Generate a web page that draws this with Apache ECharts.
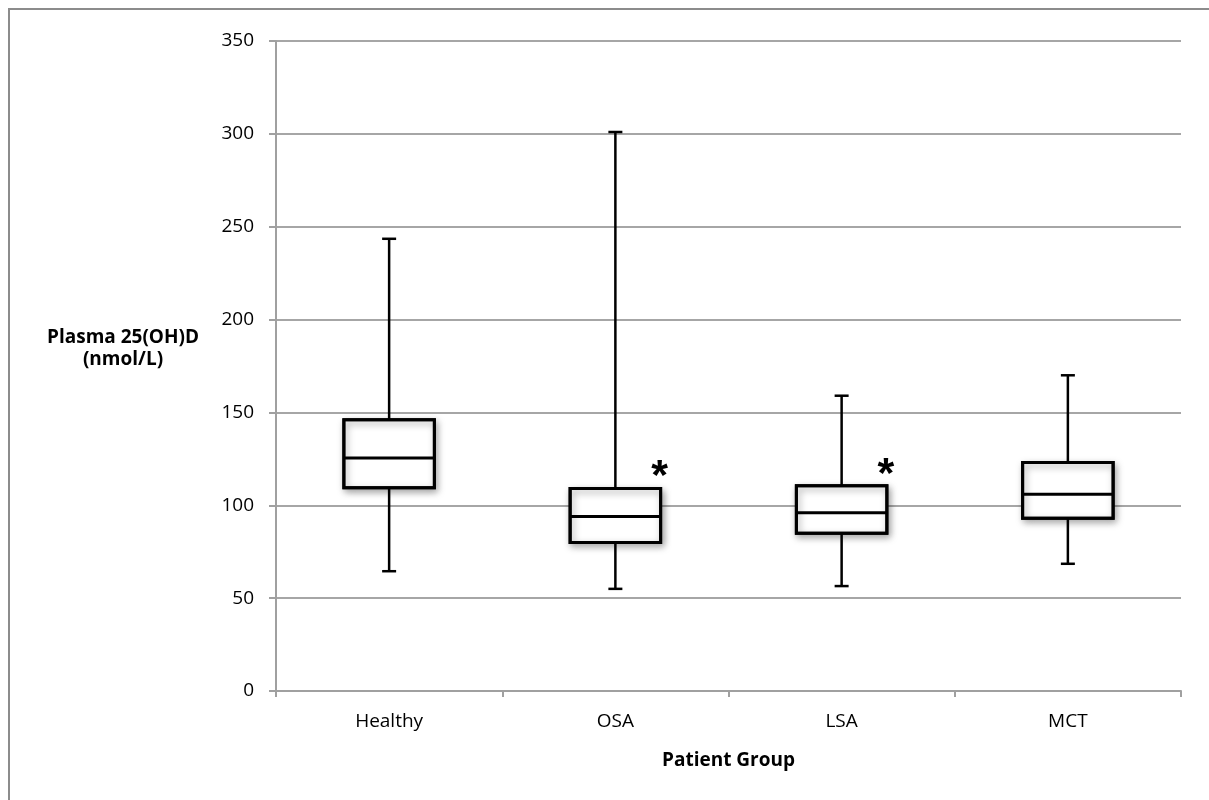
<!DOCTYPE html>
<html>
<head>
<meta charset="utf-8">
<script src="https://cdn.jsdelivr.net/npm/echarts@6/dist/echarts.min.js"></script>
<style>
  html, body { margin: 0; padding: 0; background: #fff; }
  #chart { width: 1209px; height: 800px; }
</style>
</head>
<body>
<div id="chart"></div>
<script>
// ---- Data ----
const categories = ['Healthy', 'OSA', 'LSA', 'MCT'];
const whiskerLow = [64.5, 55, 56.5, 68.5];
const q1 = [109.5, 80, 85, 93];
const median = [125.5, 94, 96, 106];
const q3 = [146, 109, 110.5, 123];
const whiskerHigh = [243.5, 301, 159, 170];
const markers = ['', '*', '*', ''];
const yTicks = { min: 0, max: 350, interval: 50 };

const boxData = categories.map((c, i) => [i, whiskerLow[i], q1[i], median[i], q3[i], whiskerHigh[i]]);

const FONT = '"Open Sans", "Liberation Sans", sans-serif';
const chart = echarts.init(document.getElementById('chart'), null, { renderer: 'canvas' });

function renderBox(params, api) {
  const i = api.value(0);
  const pLow = api.coord([i, api.value(1)]);
  const pQ1 = api.coord([i, api.value(2)]);
  const pMed = api.coord([i, api.value(3)]);
  const pQ3 = api.coord([i, api.value(4)]);
  const pHigh = api.coord([i, api.value(5)]);
  const cx = pMed[0];
  const bw = api.size([1, 0])[0] * 0.40;
  const cap = 7;
  const lineStyle = { stroke: '#000', lineWidth: 2.5, fill: null };
  const children = [
    { type: 'line', shape: { x1: cx, y1: pHigh[1], x2: cx, y2: pQ3[1] }, style: lineStyle },
    { type: 'line', shape: { x1: cx, y1: pQ1[1], x2: cx, y2: pLow[1] }, style: lineStyle },
    { type: 'line', shape: { x1: cx - cap, y1: pHigh[1], x2: cx + cap, y2: pHigh[1] }, style: lineStyle },
    { type: 'line', shape: { x1: cx - cap, y1: pLow[1], x2: cx + cap, y2: pLow[1] }, style: lineStyle },
    { type: 'rect',
      shape: { x: cx - bw / 2, y: pQ3[1], width: bw, height: pQ1[1] - pQ3[1] },
      style: { fill: '#fff', stroke: '#000', lineWidth: 3,
               shadowBlur: 7, shadowOffsetX: 2, shadowOffsetY: 3, shadowColor: 'rgba(0,0,0,0.35)' } },
    { type: 'rect',
      shape: { x: cx - bw / 2, y: pQ3[1], width: bw, height: pQ1[1] - pQ3[1] },
      style: { fill: null, stroke: '#000', lineWidth: 3 } },
    { type: 'line', shape: { x1: cx - bw / 2, y1: pMed[1], x2: cx + bw / 2, y2: pMed[1] },
      style: { stroke: '#000', lineWidth: 3 } }
  ];
  const m = markers[i];
  if (m) {
    children.push({ type: 'text',
      style: { text: m, x: cx + bw / 2 - 1, y: pQ3[1] - 11, textAlign: 'center', textVerticalAlign: 'middle',
               font: 'bold 43px "Liberation Sans", sans-serif', fill: '#000' } });
  }
  return { type: 'group', children };
}

chart.setOption({
  animation: false,
  backgroundColor: '#fff',
  grid: { left: 276, top: 41, right: 28, bottom: 109, containLabel: false },
  xAxis: {
    type: 'category',
    data: categories,
    boundaryGap: true,
    name: 'Patient Group',
    nameLocation: 'middle',
    nameGap: 60,
    nameTextStyle: { fontFamily: FONT, fontSize: 19, fontWeight: 'bold', color: '#000' },
    axisLine: { lineStyle: { color: '#a0a0a0', width: 2 } },
    axisTick: { show: true, alignWithLabel: false, length: 6, lineStyle: { color: '#a0a0a0', width: 2 } },
    axisLabel: { fontFamily: FONT, fontSize: 19, color: '#000', margin: 21 },
    splitLine: { show: false }
  },
  yAxis: {
    type: 'value',
    min: yTicks.min, max: yTicks.max, interval: yTicks.interval,
    axisLine: { show: true, lineStyle: { color: '#a0a0a0', width: 2 } },
    axisTick: { show: true, length: 7, lineStyle: { color: '#a0a0a0', width: 2 } },
    axisLabel: { fontFamily: FONT, fontSize: 19, color: '#000', margin: 22 },
    splitLine: { show: true, lineStyle: { color: '#a6a6a6', width: 2 } }
  },
  graphic: [
    { type: 'polyline', shape: { points: [[9, 800], [9, 9], [1209, 9]] },
      style: { fill: null, stroke: '#8c8c8c', lineWidth: 2 }, silent: true, z: -1 },
    { type: 'text', x: 123, y: 327,
      style: { text: 'Plasma 25(OH)D\n(nmol/L)', textAlign: 'center', font: 'bold 19px ' + FONT,
               fill: '#000', lineHeight: 22 } }
  ],
  series: [{
    type: 'custom',
    renderItem: renderBox,
    data: boxData,
    encode: { x: 0, y: [1, 2, 3, 4, 5] },
    z: 10
  }]
});
</script>
</body>
</html>
